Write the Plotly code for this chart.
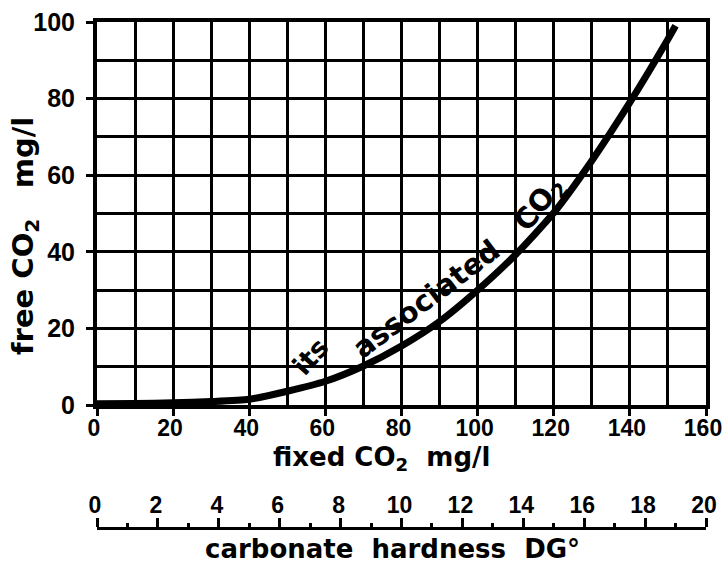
import plotly.graph_objects as go

# Data
fixed_co2 = [0, 10, 20, 30, 40, 50, 60, 70, 80, 90, 100, 110, 120, 130, 140, 150, 152]
free_co2 = [0.3, 0.4, 0.6, 0.9, 1.5, 3.6, 6.2, 10.2, 15.4, 21.8, 30.0, 39.3, 50.2, 63.8, 79.0, 95.5, 99.0]

x_ticks = [0, 20, 40, 60, 80, 100, 120, 140, 160]
y_ticks = [0, 20, 40, 60, 80, 100]
dg_ticks = [0, 2, 4, 6, 8, 10, 12, 14, 16, 18, 20]
dg_minor = [1, 3, 5, 7, 9, 11, 13, 15, 17, 19]

FONT = "Liberation Sans, Arial, sans-serif"
TFONT = "DejaVu Sans, sans-serif"

fig = go.Figure()
fig.add_trace(go.Scatter(
    x=fixed_co2, y=free_co2, mode="lines",
    line=dict(color="black", width=7, shape="spline", smoothing=0.6),
    hoverinfo="skip", showlegend=False,
))
# invisible trace to activate the secondary (carbonate hardness) axis
fig.add_trace(go.Scatter(x=[0, 20], y=[None, None], xaxis="x2", yaxis="y",
                         mode="markers", showlegend=False, hoverinfo="skip"))

ytick_font = dict(size=25, family=FONT, weight="bold", color="black")
xtick_font = dict(size=23, family=FONT, weight="bold", color="black")

fig.update_layout(
    width=723, height=569,
    margin=dict(l=97, r=17, t=22, b=20),
    paper_bgcolor="white", plot_bgcolor="white",
    font=dict(family=FONT, size=24, color="black", weight="bold"),
    xaxis=dict(
        range=[0, 160], tickvals=x_ticks, ticks="outside", ticklen=7, tickwidth=3,
        tickcolor="black", showgrid=True, gridcolor="black", gridwidth=3,
        minor=dict(dtick=10, showgrid=True, gridcolor="black", gridwidth=3),
        showline=True, linecolor="black", linewidth=4, mirror=True,
        zeroline=False, tickfont=xtick_font, automargin=False,
        ticklabelstandoff=-8, ticklabelshift=-3, ticklabeloverflow="allow",
        anchor="y",
    ),
    yaxis=dict(
        range=[0, 100], tickvals=y_ticks, ticks="outside", ticklen=7, tickwidth=3,
        tickcolor="black", showgrid=True, gridcolor="black", gridwidth=3,
        minor=dict(dtick=10, showgrid=True, gridcolor="black", gridwidth=3),
        showline=True, linecolor="black", linewidth=4, mirror=True,
        zeroline=False, domain=[0.2732, 1], ticklabelstandoff=6,
        tickfont=ytick_font, automargin=False, ticklabeloverflow="allow",
    ),
    xaxis2=dict(
        range=[0, 20], overlaying="x", side="top", anchor="free", position=0.0398,
        tickvals=dg_ticks, ticks="outside", ticklen=9, tickwidth=2.5, tickcolor="black",
        minor=dict(tickvals=dg_minor, ticks="outside",
                   ticklen=4, tickwidth=3, tickcolor="black"),
        showline=True, linecolor="black", linewidth=3, showgrid=False, zeroline=False,
        tickfont=xtick_font, automargin=False, ticklabelstandoff=-4,
        ticklabelshift=-2, ticklabeloverflow="allow",
    ),
)

# positions given in page pixels, converted to paper coordinates
annotations = [
    dict(text="free CO<sub>2</sub>   mg/l", x=25, y=236, textangle=-90, size=29),
    dict(text="fixed CO<sub>2</sub>  mg/l", x=381, y=458, textangle=0, size=26),
    dict(text="carbonate  hardness  DG°", x=392, y=549, textangle=0, size=26),
]
for a in annotations:
    fig.add_annotation(
        text=a["text"], xref="paper", yref="paper",
        x=(a["x"] - 97) / 609, y=(549 - a["y"]) / 527,
        showarrow=False, textangle=a["textangle"],
        font=dict(size=a["size"], family=TFONT, weight="bold"),
        xanchor="center", yanchor="middle",
    )

# curved label along the line
labels = [("its", 56, 12.8, -48, 27), ("associated", 86.5, 27.6, -37, 29),
          ("CO<sub>2</sub>", 116.5, 52.5, -52, 29)]
for t, lx, ly, ang, sz in labels:
    fig.add_annotation(text=t, x=lx, y=ly, xref="x", yref="y", showarrow=False,
                       textangle=ang, font=dict(size=sz, family=TFONT, weight="bold"))

# remove the default page margin so the 723x569 figure fills the window exactly
fig.write_html(
    "out.html",
    config={"displayModeBar": False},
    post_script="document.body.style.margin='0';document.body.style.overflow='hidden';",
)
